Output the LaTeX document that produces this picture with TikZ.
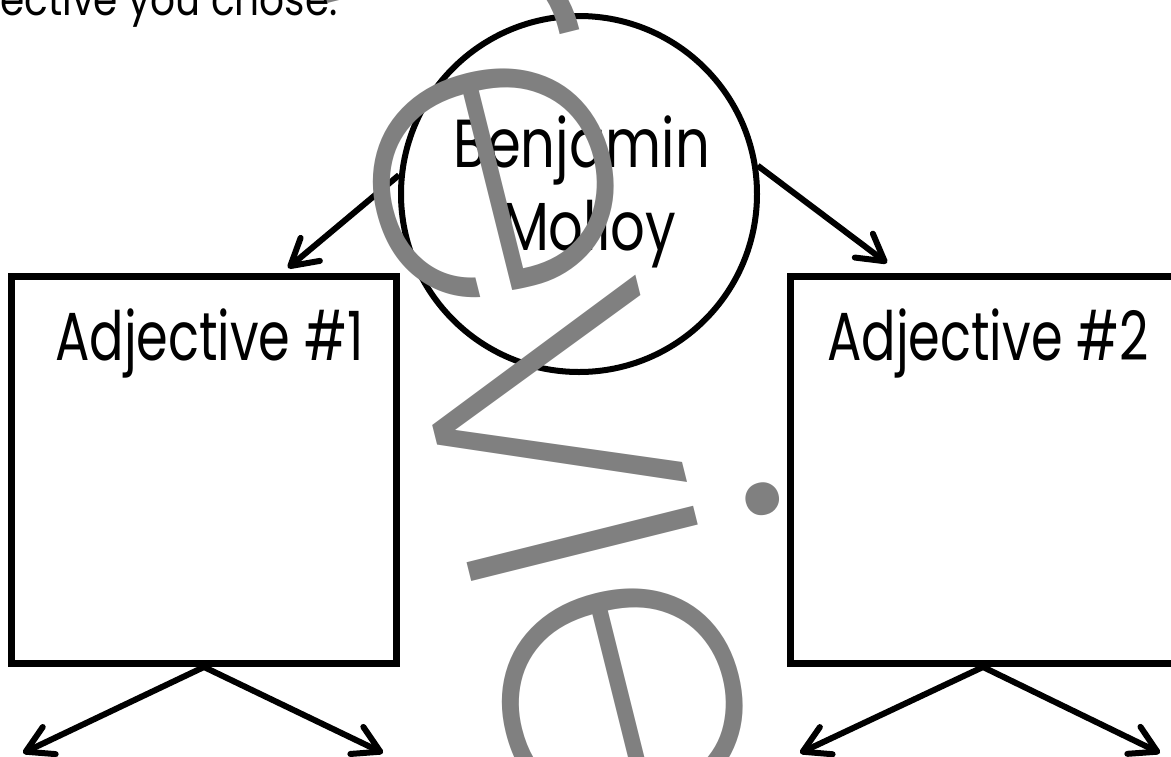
\documentclass[tikz,border=0pt]{standalone}
\usepackage{fontspec}
\usetikzlibrary{arrows.meta}
\newfontfamily\circfont[FakeStretch=0.8]{Poppins}
\newfontfamily\adjfont[FakeStretch=0.75]{Poppins}
\newfontfamily\topfont[FakeStretch=0.85]{Poppins}
\IfFontExistsTF{Poppins ExtraLight}{\newfontfamily\wmfont[LetterSpace=-4]{Poppins ExtraLight}}{%
  \IfFontExistsTF{Poppins Light}{\newfontfamily\wmfont[LetterSpace=-4]{Poppins Light}}{\newfontfamily\wmfont[LetterSpace=-4]{Poppins}}}
\definecolor{wmgray}{RGB}{128,128,128}
\newlength\wmA
\newlength\wmB
\tikzset{
  boxnode/.style={draw=black, line width=7pt, minimum width=385pt, minimum height=387pt, inner sep=0pt},
  circnode/.style={draw=black, circle, line width=6pt, minimum size=356pt, inner sep=0pt},
  arr/.style={line width=6pt, -{Straight Barb[length=26pt,width=30pt,round]}},
  circtxt/.style={inner sep=0pt, font=\circfont\fontsize{68}{80}\selectfont},
  adjtxt/.style={inner sep=0pt, font=\adjfont\fontsize{68}{80}\selectfont},
  toptxt/.style={inner sep=0pt, font=\topfont\fontsize{46}{52}\selectfont},
  wmtxt/.style={inner sep=0pt, text=wmgray, font=\wmfont\fontsize{430}{430}\selectfont}
}
\begin{document}
\settowidth\wmA{\wmfont\fontsize{430}{430}\selectfont Prev}%
\settowidth\wmB{\wmfont\fontsize{430}{430}\selectfont i}%
\pgfmathsetmacro\wmshift{\wmA+0.5*\wmB}%
\begin{tikzpicture}[x=1pt,y=-1pt]
\useasboundingbox (0,0) rectangle (1171,756);
% boxes and circle
\node[boxnode] (b1) at (204,470) {};
\node[boxnode] (b2) at (983,470) {};
\node[circnode] (c) at (579,194) {};
% texts
\node[toptxt, anchor=base east] (top) at (338,15) {ective you chose.};
\node[circtxt, anchor=base] (n1) at (582,167) {Benjamin};
\node[circtxt, anchor=base] (n2) at (589,250) {Molloy};
\node[adjtxt, anchor=base west] (a1) at (55,360) {Adjective \#1};
\node[adjtxt, anchor=base west] (a2) at (827,360) {Adjective \#2};
% arrow end points
\coordinate (t1) at (288,268);
\coordinate (t2) at (887,263);
\coordinate (t3) at (23,753);
\coordinate (t4) at (383,753);
\coordinate (t5) at (800,753);
\coordinate (t6) at (1160,753);
\draw[arr] (c.174) -- (t1);
\draw[arr] (c.9) -- (t2);
\draw[arr] (b1.south) -- (t3);
\draw[arr] (b1.south) -- (t4);
\draw[arr] (b2.south) -- (t5);
\draw[arr] (b2.south) -- (t6);
% watermark
\coordinate (istem) at (474,589);
\coordinate (wmstart) at ([shift={(256:\wmshift)}]istem);
\node[wmtxt, rotate=-76, anchor=base west] (wm) at (wmstart) {Preview};
\end{tikzpicture}
\end{document}
